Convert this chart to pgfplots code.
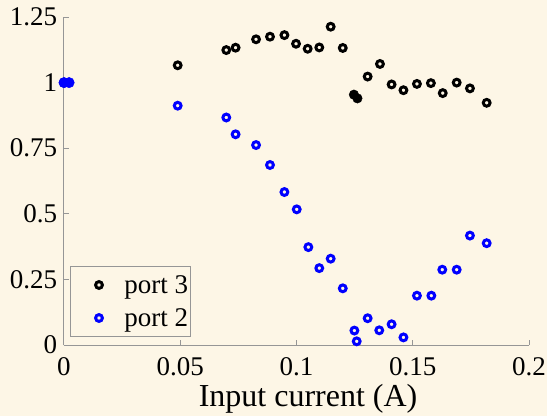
\documentclass[border=0pt]{standalone}
\usepackage{fontspec}
\setmainfont{Liberation Serif}
\usepackage{pgfplots}
\pgfplotsset{compat=1.18}
\definecolor{bg}{RGB}{253,246,230}
\definecolor{axgray}{RGB}{150,150,150}
\newcommand{\bigf}{\fontsize{27}{32}\selectfont}
\newcommand{\labf}{\fontsize{32}{38}\selectfont}
\begin{document}
\begin{tikzpicture}
\fill[bg] (-64pt,-71pt) rectangle ++(547pt,416pt);
\begin{axis}[
  at={(0,0)}, anchor=south west,
  scale only axis, width=465pt, height=328pt,
  xmin=0, xmax=0.2, ymin=0, ymax=1.25,
  clip=false,
  axis x line*=bottom, axis y line*=left,
  axis line style={axgray, line width=1pt},
  tick align=inside, major tick length=5pt,
  tick style={axgray, line width=1pt},
  xtick={0,0.05,0.1,0.15,0.2}, xticklabels={0,0.05,0.1,0.15,0.2},
  ytick={0,0.25,0.5,0.75,1,1.25}, yticklabels={0,0.25,0.5,0.75,1,1.25},
  xticklabel style={font=\bigf, anchor=base, inner sep=0pt, yshift=-30pt},
  yticklabel style={font=\bigf, anchor=east, inner sep=0pt, xshift=-6.7pt},
  xlabel={Input current (A)},
  xlabel style={font=\labf, at={(axis description cs:0.525,-0.186)}, anchor=base},
  legend style={at={(0.0129,0.0244)}, anchor=south west, draw=axgray, fill=bg,
    line width=1pt, font=\bigf, inner sep=2pt,
    nodes={inner sep=0pt}, column sep=0pt, row sep=0pt},
  legend cell align=left,
  legend image code/.code={%
    \path (0pt,-16pt) (51pt,16pt);
    \draw[#1] plot coordinates {(26pt,0pt)};},
]
\addplot[only marks, mark=o, black, mark size=3.4pt, mark options={line width=3pt}] coordinates {
(0.0489,1.066) (0.0698,1.124) (0.0738,1.133) (0.0826,1.165) (0.0886,1.175)
(0.0948,1.181) (0.0998,1.148) (0.1048,1.129) (0.1098,1.134) (0.1147,1.213)
(0.1199,1.132) (0.1306,1.023) (0.1359,1.071) (0.1409,0.993) (0.1460,0.971)
(0.1518,0.995) (0.1578,0.998) (0.1629,0.960) (0.1689,1.000) (0.1746,0.978)
(0.1818,0.923)
};
\addlegendentry{port 3}
\addplot[only marks, mark=o, blue, mark size=3.4pt, mark options={line width=3pt}] coordinates {
(0.0489,0.912) (0.0698,0.867) (0.0738,0.803) (0.0826,0.762) (0.0886,0.686)
(0.0948,0.583) (0.1001,0.517) (0.1051,0.373) (0.1098,0.293) (0.1147,0.329)
(0.1199,0.216) (0.1249,0.055) (0.1259,0.014) (0.1306,0.102) (0.1356,0.056)
(0.1409,0.079) (0.1460,0.029) (0.1518,0.188) (0.1580,0.188) (0.1627,0.287)
(0.1689,0.287) (0.1746,0.417) (0.1818,0.388)
};
\addlegendentry{port 2}
\addplot[only marks, mark=*, black, mark size=4.8pt, forget plot] coordinates {
(0.1247,0.954) (0.1262,0.940) (0,1)
};
\addplot[only marks, mark=*, blue, mark size=5.2pt, forget plot] coordinates {
(0,1) (0.0022,1)
};
\end{axis}
\pgfresetboundingbox
\useasboundingbox (-64pt,-71pt) rectangle ++(547pt,416pt);
\end{tikzpicture}
\end{document}
